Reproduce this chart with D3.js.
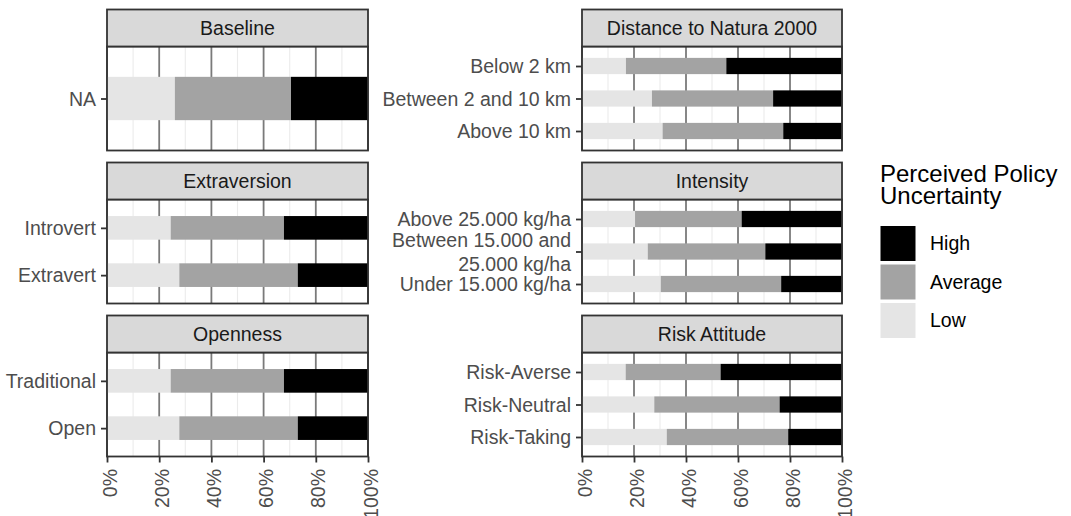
<!DOCTYPE html>
<html>
<head>
<meta charset="utf-8">
<script src="https://cdn.jsdelivr.net/npm/d3@7"></script>
<style>
  html, body { margin: 0; padding: 0; background: #fff; }
  svg { display: block; font-family: "Liberation Sans", Arial, sans-serif; }
</style>
</head>
<body>
<svg id="chart" width="1071" height="516"></svg>
<script>
// ---------------- data ----------------
const facetNames = ["Baseline", "Extraversion", "Openness",
                    "Distance to Natura 2000", "Intensity", "Risk Attitude"];

const baselineCats = ["NA"];
const baselineLow  = [26.0];
const baselineAvg  = [44.5];
const baselineHigh = [29.5];

const extraversionCats = ["Introvert", "Extravert"];
const extraversionLow  = [24.4, 27.7];
const extraversionAvg  = [43.4, 45.4];
const extraversionHigh = [32.2, 26.9];

const opennessCats = ["Traditional", "Open"];
const opennessLow  = [24.4, 27.7];
const opennessAvg  = [43.4, 45.4];
const opennessHigh = [32.2, 26.9];

const distanceCats = ["Below 2 km", "Between 2 and 10 km", "Above 10 km"];
const distanceLow  = [16.9, 26.9, 31.0];
const distanceAvg  = [38.6, 46.6, 46.4];
const distanceHigh = [44.5, 26.5, 22.6];

const intensityCats = ["Above 25.000 kg/ha", "Between 15.000 and\n25.000 kg/ha", "Under 15.000 kg/ha"];
const intensityLow  = [20.4, 25.3, 30.3];
const intensityAvg  = [41.0, 45.2, 46.3];
const intensityHigh = [38.6, 29.5, 23.4];

const riskCats = ["Risk-Averse", "Risk-Neutral", "Risk-Taking"];
const riskLow  = [16.8, 27.8, 32.6];
const riskAvg  = [36.5, 48.2, 46.7];
const riskHigh = [46.7, 24.0, 20.7];

const levels = ["Low", "Average", "High"];
const legendOrder = ["High", "Average", "Low"];
const legendTitle = ["Perceived Policy", "Uncertainty"];
const xTicks = [0, 0.2, 0.4, 0.6, 0.8, 1.0];
const xMinorTicks = [0.1, 0.3, 0.5, 0.7, 0.9];

// ---------------- styling ----------------
const colors = { Low: "#e5e5e5", Average: "#a3a3a3", High: "#000000" };
const fontSize = 19.5;
const titleSize = 24;

const facets = [
  { name: facetNames[0], cats: baselineCats, low: baselineLow, avg: baselineAvg, high: baselineHigh, col: 0, row: 0 },
  { name: facetNames[1], cats: extraversionCats, low: extraversionLow, avg: extraversionAvg, high: extraversionHigh, col: 0, row: 1 },
  { name: facetNames[2], cats: opennessCats, low: opennessLow, avg: opennessAvg, high: opennessHigh, col: 0, row: 2 },
  { name: facetNames[3], cats: distanceCats, low: distanceLow, avg: distanceAvg, high: distanceHigh, col: 1, row: 0 },
  { name: facetNames[4], cats: intensityCats, low: intensityLow, avg: intensityAvg, high: intensityHigh, col: 1, row: 1 },
  { name: facetNames[5], cats: riskCats, low: riskLow, avg: riskAvg, high: riskHigh, col: 1, row: 2 }
];

const colX = [107, 582];
const colW = [261, 260];
const rowTop0 = 9.5, rowStep = 153, stripH = 37, panelH = 104;

const svg = d3.select("#chart");

facets.forEach(f => {
  const x0 = colX[f.col], w = colW[f.col];
  const stripTop = rowTop0 + f.row * rowStep;
  const pTop = stripTop + stripH;
  const x = d3.scaleLinear().domain([0, 1]).range([x0, x0 + w]);
  const y = d3.scalePoint().domain(f.cats).range([pTop, pTop + panelH]).padding(0.6);
  const barH = y.step() * 0.5;

  const g = svg.append("g");
  g.append("rect").attr("x", x0).attr("y", pTop).attr("width", w).attr("height", panelH).attr("fill", "#fff");

  // minor grid
  g.selectAll(".minor").data(xMinorTicks).join("line")
    .attr("x1", d => x(d)).attr("x2", d => x(d)).attr("y1", pTop).attr("y2", pTop + panelH)
    .attr("stroke", "#ebebeb").attr("stroke-width", 1.1);
  // major grid
  g.selectAll(".major").data(xTicks).join("line")
    .attr("x1", d => x(d)).attr("x2", d => x(d)).attr("y1", pTop).attr("y2", pTop + panelH)
    .attr("stroke", "#7a7a7a").attr("stroke-width", 1.8);

  // stacked bars
  const rows = f.cats.map((c, i) => ({ cat: c, Low: f.low[i] / 100, Average: f.avg[i] / 100, High: f.high[i] / 100 }));
  const stack = d3.stack().keys(levels)(rows);
  stack.forEach(layer => {
    g.append("g").selectAll("rect").data(layer).join("rect")
      .attr("x", d => x(d[0]))
      .attr("width", d => Math.max(0, x(d[1]) - x(d[0])))
      .attr("y", d => y(d.data.cat) - barH / 2)
      .attr("height", barH)
      .attr("fill", colors[layer.key]);
  });

  // panel border
  g.append("rect").attr("x", x0).attr("y", pTop).attr("width", w).attr("height", panelH)
    .attr("fill", "none").attr("stroke", "#333").attr("stroke-width", 1.8);

  // strip
  g.append("rect").attr("x", x0).attr("y", stripTop).attr("width", w).attr("height", stripH)
    .attr("fill", "#d9d9d9").attr("stroke", "#333").attr("stroke-width", 1.8);
  g.append("text").attr("x", x0 + w / 2).attr("y", stripTop + stripH / 2 + 0.35 * fontSize)
    .attr("text-anchor", "middle").attr("font-size", fontSize).attr("fill", "#1a1a1a").text(f.name);

  // y axis
  const yAxis = g.append("g").attr("transform", `translate(${x0},0)`)
    .call(d3.axisLeft(y).tickSize(6).tickPadding(5));
  yAxis.select(".domain").remove();
  yAxis.selectAll(".tick line").attr("stroke", "#333").attr("stroke-width", 1.8);
  yAxis.selectAll(".tick text").each(function(d) {
    const t = d3.select(this);
    const lines = String(d).split("\n");
    const lh = 23.5;
    t.text(null).attr("dy", null).attr("y", 0)
      .attr("font-size", fontSize).attr("fill", "#4d4d4d")
      .attr("font-family", "Liberation Sans, Arial, sans-serif")
      .attr("text-anchor", "end");
    lines.forEach((ln, i) => {
      t.append("tspan").attr("x", -11)
        .attr("y", -(lines.length - 1) / 2 * lh + i * lh + 0.35 * fontSize)
        .text(ln);
    });
  });

  // x axis (bottom row only)
  if (f.row === 2) {
    const xAxis = g.append("g").attr("transform", `translate(0,${pTop + panelH})`)
      .call(d3.axisBottom(x).tickValues(xTicks).tickFormat(d3.format(".0%")).tickSize(6));
    xAxis.select(".domain").remove();
    xAxis.selectAll(".tick line").attr("stroke", "#333").attr("stroke-width", 1.8);
    xAxis.selectAll(".tick text")
      .attr("transform", "rotate(-90)")
      .attr("x", -12.5).attr("y", 9).attr("dy", null)
      .attr("text-anchor", "end")
      .attr("font-size", fontSize).attr("fill", "#4d4d4d")
      .attr("font-family", "Liberation Sans, Arial, sans-serif");
  }
});

// ---------------- legend ----------------
const lg = svg.append("g");
legendTitle.forEach((t, i) => {
  lg.append("text").attr("x", 880).attr("y", 182 + i * 22).attr("font-size", titleSize)
    .attr("fill", "#000").text(t);
});
const keyStep = 38.5, keySize = 35, keyTop = 226;
legendOrder.forEach((k, i) => {
  lg.append("rect").attr("x", 880.5).attr("y", keyTop + i * keyStep).attr("width", keySize).attr("height", keySize)
    .attr("fill", colors[k]);
  lg.append("text").attr("x", 930).attr("y", keyTop + i * keyStep + keySize / 2 + 0.35 * fontSize)
    .attr("font-size", fontSize).attr("fill", "#000").text(k);
});
</script>
</body>
</html>
